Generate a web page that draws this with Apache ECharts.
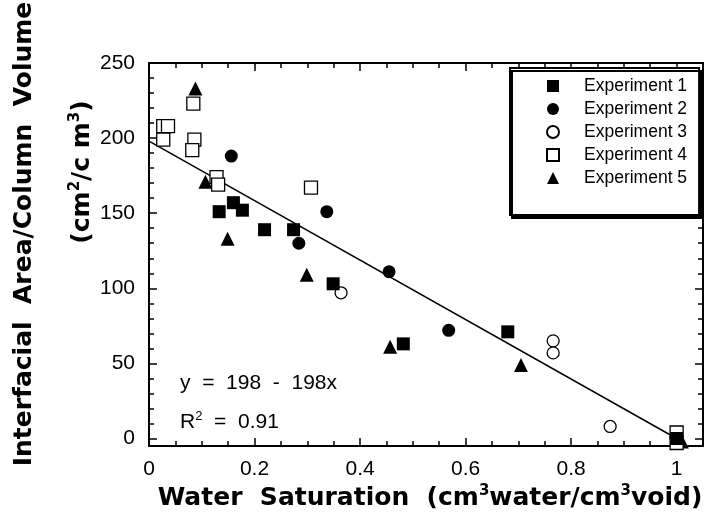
<!DOCTYPE html>
<html>
<head>
<meta charset="utf-8">
<script src="https://cdn.jsdelivr.net/npm/echarts@6/dist/echarts.min.js"></script>
<style>
  html, body { margin: 0; padding: 0; background: #fff; }
  #chart { width: 716px; height: 522px; }
</style>
</head>
<body>
<div id="chart"></div>
<script>
// Interfacial area per column volume vs. water saturation, five experiments
const seriesNames = ['Experiment 1', 'Experiment 2', 'Experiment 3', 'Experiment 4', 'Experiment 5'];

const exp1 = [[0.133, 151], [0.160, 157], [0.177, 152], [0.219, 139], [0.274, 139],
              [0.349, 103], [0.482, 63], [0.680, 71], [1.000, 0]];
const exp2 = [[0.156, 188], [0.284, 130], [0.337, 151], [0.455, 111], [0.568, 72]];
const exp3 = [[0.364, 97], [0.766, 65], [0.766, 57], [0.874, 8]];
const exp4 = [[0.084, 223], [0.027, 208], [0.036, 208], [0.027, 199], [0.086, 199],
              [0.082, 192], [0.128, 174], [0.131, 169], [0.307, 167], [1.000, 4], [1.000, -3]];
const exp5 = [[0.088, 233], [0.107, 171], [0.149, 133], [0.299, 109], [0.457, 61],
              [0.705, 49], [1.010, -2]];

// Linear fit y = 198 - 198x
const fitIntercept = 198;
const fitSlope = -198;
const fitRange = [0, 1];

const xTickValues = [0, 0.2, 0.4, 0.6, 0.8, 1];
const xMinorTicks = [0.05, 0.1, 0.15, 0.25, 0.3, 0.35, 0.45, 0.5, 0.55, 0.65, 0.7, 0.75, 0.85, 0.9, 0.95];
const yTickValues = [0, 50, 100, 150, 200, 250];
const yMinorTicks = [10, 20, 30, 40, 60, 70, 80, 90, 110, 120, 130, 140, 160, 170, 180, 190, 210, 220, 230, 240];

const X_MIN = 0, X_MAX = 1.05, Y_MIN = -5, Y_MAX = 250;
const SANS = '"Liberation Sans", Arial, sans-serif';
const BOLD = '"DejaVu Sans", sans-serif';

const fitData = fitRange.map(x => [x, fitIntercept + fitSlope * x]);

function frameAxis(kind, position, ticks, major, withLabels) {
  const ax = {
    type: 'value',
    position: position,
    min: kind === 'x' ? X_MIN : Y_MIN,
    max: kind === 'x' ? X_MAX : Y_MAX,
    splitLine: { show: false },
    axisLine: { show: major, onZero: false, lineStyle: { color: '#000', width: 2 } },
    axisTick: {
      show: true, inside: true, length: major ? 8 : 5,
      customValues: ticks,
      lineStyle: { color: '#000', width: 1.5 }
    },
    axisLabel: { show: false }
  };
  if (withLabels) {
    ax.axisLabel = {
      show: true,
      customValues: ticks,
      color: '#000',
      fontFamily: SANS,
      fontSize: 21,
      margin: kind === 'x' ? 13 : 14,
      formatter: v => String(v)
    };
  }
  return ax;
}

const chart = echarts.init(document.getElementById('chart'), null, { renderer: 'canvas' });

const solid = { color: '#000', opacity: 1 };
const hollow = { color: '#fff', borderColor: '#000', borderWidth: 1.3, opacity: 1 };

const option = {
  backgroundColor: '#fff',
  animation: false,
  grid: { left: 149, right: 13, top: 63, bottom: 76, containLabel: false },
  xAxis: [
    frameAxis('x', 'bottom', xTickValues, true, true),
    frameAxis('x', 'bottom', xMinorTicks, false, false),
    frameAxis('x', 'top', xTickValues, true, false),
    frameAxis('x', 'top', xMinorTicks, false, false)
  ],
  yAxis: [
    frameAxis('y', 'left', yTickValues, true, true),
    frameAxis('y', 'left', yMinorTicks, false, false),
    frameAxis('y', 'right', yTickValues, true, false),
    frameAxis('y', 'right', yMinorTicks, false, false)
  ],
  legend: {
    data: seriesNames,
    orient: 'vertical',
    left: 510,
    top: 68,
    padding: [8, 12, 27, 36],
    itemGap: 3,
    itemWidth: 12,
    itemHeight: 12,
    textStyle: { color: '#000', fontFamily: SANS, fontSize: 17.5, lineHeight: 20, padding: [0, 0, 0, 20] },
    backgroundColor: '#fff',
    borderColor: '#000',
    borderWidth: 2,
    borderRadius: 0,
    shadowColor: '#000',
    shadowBlur: 0,
    shadowOffsetX: 2,
    shadowOffsetY: 3
  },
  series: [
    {
      name: 'fit', type: 'line', data: fitData, symbol: 'none', silent: true,
      lineStyle: { color: '#000', width: 1.5 }, z: 1
    },
    {
      name: seriesNames[0], type: 'scatter', data: exp1, symbol: 'rect', symbolSize: 13,
      itemStyle: solid, z: 4
    },
    {
      name: seriesNames[1], type: 'scatter', data: exp2, symbol: 'circle', symbolSize: 13,
      itemStyle: solid, z: 3
    },
    {
      name: seriesNames[2], type: 'scatter', data: exp3, symbol: 'circle', symbolSize: 12,
      itemStyle: hollow, z: 3
    },
    {
      name: seriesNames[3], type: 'scatter', data: exp4, symbol: 'rect', symbolSize: 13,
      itemStyle: hollow, z: 3
    },
    {
      name: seriesNames[4], type: 'scatter', data: exp5, symbol: 'triangle', symbolSize: 14,
      itemStyle: solid, z: 2
    }
  ],
  graphic: [
    {
      type: 'text', x: 24, y: 234, rotation: Math.PI / 2,
      style: {
        text: 'Interfacial  Area/Column  Volume',
        fontFamily: BOLD, fontWeight: 'bold', fontSize: 25,
        fill: '#000', align: 'center', verticalAlign: 'middle'
      }
    },
    {
      type: 'text', x: 82, y: 172, rotation: Math.PI / 2,
      style: {
        text: '{b|(cm}{s|2}{b|/c m}{s|3}{b|)}',
        align: 'center', verticalAlign: 'middle',
        rich: {
          b: { fontFamily: BOLD, fontWeight: 'bold', fontSize: 25, fill: '#000', lineHeight: 28 },
          s: { fontFamily: BOLD, fontWeight: 'bold', fontSize: 15, fill: '#000', lineHeight: 15, verticalAlign: 'top' }
        }
      }
    },
    {
      type: 'text', x: 430, y: 498,
      style: {
        text: '{b|Water  Saturation  (cm}{s|3}{b|water/cm}{s|3}{b|void)}',
        align: 'center', verticalAlign: 'middle',
        rich: {
          b: { fontFamily: BOLD, fontWeight: 'bold', fontSize: 25, fill: '#000', lineHeight: 28 },
          s: { fontFamily: BOLD, fontWeight: 'bold', fontSize: 15, fill: '#000', lineHeight: 15, verticalAlign: 'top' }
        }
      }
    },
    {
      type: 'text', x: 180, y: 383,
      style: {
        text: 'y  =  198  -  198x',
        fontFamily: SANS, fontSize: 21, fill: '#000',
        align: 'left', verticalAlign: 'middle'
      }
    },
    {
      type: 'text', x: 180, y: 422,
      style: {
        text: '{a|R}{s|2}{a|  =  0.91}',
        align: 'left', verticalAlign: 'middle',
        rich: {
          a: { fontFamily: SANS, fontSize: 21, fill: '#000', lineHeight: 24 },
          s: { fontFamily: SANS, fontSize: 13, fill: '#000', lineHeight: 13, verticalAlign: 'top' }
        }
      }
    }
  ]
};

chart.setOption(option);
</script>
</body>
</html>
